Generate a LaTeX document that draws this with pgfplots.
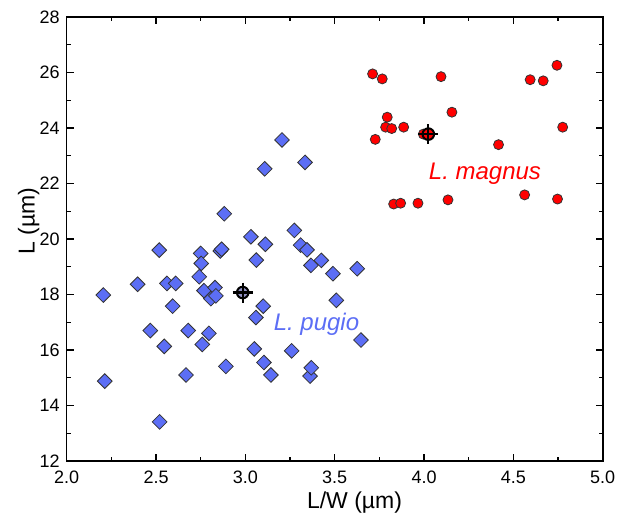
\documentclass[border=0pt]{standalone}
\usepackage{fontspec}
\setmainfont{Liberation Sans}
\usepackage{pgfplots}
\pgfplotsset{compat=1.18}
\definecolor{pugio}{RGB}{92,110,245}
\definecolor{meanblue}{RGB}{145,145,195}
\definecolor{magnus}{RGB}{255,0,0}

\begin{document}
\begin{tikzpicture}
\useasboundingbox (-33.35pt,-27pt) rectangle (276.15pt,230.5pt);
\begin{axis}[
    at={(0pt,0pt)}, anchor=south west,
    scale only axis, width=268pt, height=222pt,
    xmin=2, xmax=5, ymin=12, ymax=28,
    xtick={2,2.5,3,3.5,4,4.5,5},
    ytick={12,14,16,18,20,22,24,26,28},
    minor x tick num=1, minor y tick num=1,
    tick align=inside,
    major tick length=3.5pt, minor tick length=2pt,
    axis line style={line width=0.8pt},
    every tick/.style={black, line width=0.7pt},
    tick label style={font=\fontsize{9}{10}\selectfont},
    /pgf/number format/assume math mode=true,
    xticklabel style={yshift=-1.5pt, /pgf/number format/.cd, fixed, fixed zerofill, precision=1},
    yticklabel style={/pgf/number format/.cd, fixed, precision=0},
    xlabel={L/W (µm)},
    ylabel={L (µm)},
    xlabel style={font=\fontsize{11.5}{13}\selectfont, at={(axis description cs:0.537,0)}, anchor=base, yshift=-23.8pt},
    ylabel style={font=\fontsize{11.5}{13}\selectfont, at={(axis description cs:-0.06,0.54)}, anchor=base},
    clip=false,
]
% L. pugio
\addplot[only marks, mark=square*, mark size=2.6pt,
    mark options={rotate=45, fill=pugio, draw=black!80, line width=0.4pt}]
coordinates {
(2.205,17.98) (2.213,14.88) (2.397,18.37) (2.468,16.70) (2.518,19.60)
(2.520,13.41) (2.546,16.13) (2.561,18.40) (2.593,17.58) (2.610,18.40)
(2.668,15.10) (2.680,16.70) (2.742,18.64) (2.750,19.48) (2.753,19.12)
(2.759,16.20) (2.768,18.14) (2.796,16.60) (2.807,17.85) (2.830,18.25)
(2.835,17.95) (2.860,19.57) (2.867,19.63) (2.882,20.91) (2.891,15.41)
(3.031,20.08) (3.050,16.04) (3.059,17.17) (3.061,19.24) (3.100,17.58)
(3.104,15.55) (3.108,22.53) (3.112,19.81) (3.143,15.10) (3.205,23.57)
(3.259,15.97) (3.274,20.31) (3.309,19.78) (3.334,22.76) (3.345,19.61)
(3.362,15.06) (3.367,19.05) (3.369,15.36) (3.425,19.23) (3.490,18.75)
(3.509,17.79) (3.626,18.93) (3.647,16.36)
};
% L. magnus
\addplot[only marks, mark=*, mark size=2.5pt,
    mark options={fill=magnus, draw=black!80, line width=0.4pt}]
coordinates {
(3.712,25.95) (3.766,25.77) (4.095,25.85) (4.594,25.74) (4.667,25.70)
(4.744,26.26) (3.794,24.39) (3.785,24.03) (3.819,23.98) (3.886,24.03)
(4.156,24.57) (4.776,24.03) (3.727,23.59) (3.996,23.78) (4.417,23.40)
(4.563,21.59) (4.747,21.44) (4.134,21.41) (3.830,21.26) (3.869,21.29)
(3.966,21.29)
};
% means
\addplot[only marks, mark=*, mark size=2.9pt,
    mark options={fill=meanblue, draw=black, line width=1pt}]
coordinates {(2.985,18.07)};
\addplot[only marks, mark=*, mark size=2.9pt,
    mark options={fill=magnus, draw=black, line width=1pt}]
coordinates {(4.024,23.78)};
\addplot[only marks, mark=+, mark size=5pt,
    mark options={draw=black, line width=1.1pt}]
coordinates {(2.985,18.07) (4.024,23.78)};

\node[font=\fontsize{12}{14}\selectfont\itshape, text=pugio, anchor=base]
    at (axis cs:3.398,16.72) {L. pugio};
\node[font=\fontsize{12}{14}\selectfont\itshape, text=magnus, anchor=base]
    at (axis cs:4.341,22.13) {L. magnus};
\end{axis}
\end{tikzpicture}
\end{document}
